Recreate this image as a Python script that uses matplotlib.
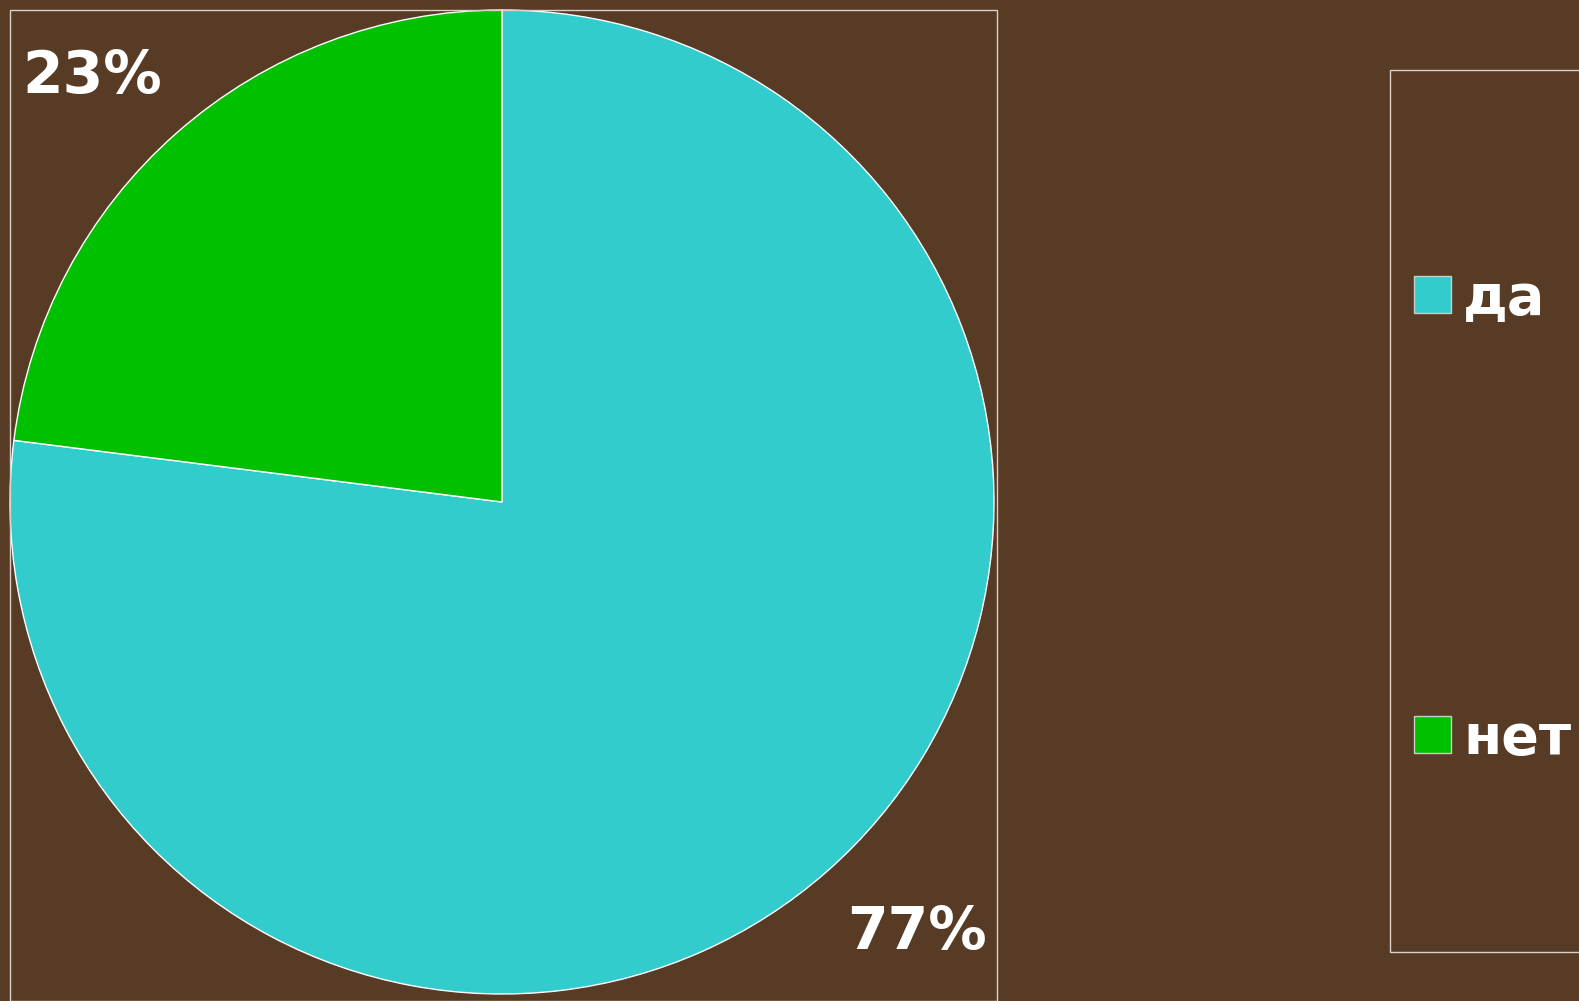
import numpy as np
import matplotlib
matplotlib.use("Agg")
import matplotlib.pyplot as plt
from matplotlib.patches import Rectangle, Patch

categories = ["да", "нет"]
values = [77, 23]
colors = ["#33CCCC", "#00C000"]

W, H = 1579, 1001
fig = plt.figure(figsize=(W / 100, H / 100), dpi=100)
fig.patch.set_facecolor("#573b24")

# plot-area frame
fig.patches.append(Rectangle((10 / W, 0), (997 - 10) / W, (H - 10) / H,
                             transform=fig.transFigure, fill=False,
                             edgecolor="#d8d0c8", lw=1.0))
# legend frame
fig.patches.append(Rectangle((1390 / W, (H - 952) / H), (W - 1390 + 10) / W, (952 - 70) / H,
                             transform=fig.transFigure, fill=False,
                             edgecolor="#d8d0c8", lw=1.0))

ax = fig.add_axes([10 / W, 7 / H, 984 / W, 984 / H])
ax.set_facecolor("none")
wedges, texts, autotexts = ax.pie(
    values, colors=colors, startangle=90, counterclock=False,
    autopct=lambda p: f"{p:.0f}%", pctdistance=1.2,
    wedgeprops=dict(edgecolor="white", linewidth=1.0),
    textprops=dict(color="white", fontsize=42, fontweight="bold", family="DejaVu Sans"))
# labels sit slightly rotated from the wedge mid-angle, as in the reference
for w, t, d in zip(wedges, autotexts, (1.215, 1.2)):
    mid = np.deg2rad((w.theta1 + w.theta2) / 2 + 2.5)
    t.set_position((d * np.cos(mid), d * np.sin(mid)))
    t.set_clip_on(False)
ax.set_xlim(-1, 1)
ax.set_ylim(-1, 1)
ax.set_aspect("equal")
ax.axis("off")

handles = [Patch(facecolor=c, edgecolor="#cccccc", linewidth=1) for c in colors]
leg = fig.legend(handles, categories, loc="center left",
                 bbox_to_anchor=(1414 / W, 1 - 519 / H), bbox_transform=fig.transFigure,
                 frameon=False, borderaxespad=0, borderpad=0,
                 handlelength=0.66, handleheight=0.66, handletextpad=0.22,
                 labelspacing=6.94,
                 prop=dict(family="DejaVu Sans", weight="bold", size=40))
for txt in leg.get_texts():
    txt.set_color("white")

fig.savefig("out.png", dpi=100, facecolor=fig.get_facecolor())
